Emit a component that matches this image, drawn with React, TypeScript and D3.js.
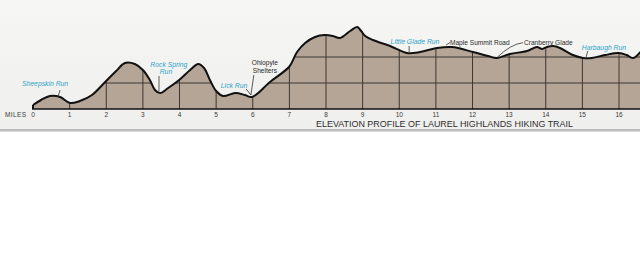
import React from "react";
import * as d3 from "d3";

// Elevation profile: mile along trail, elevation (ft)
const miles = [0, 0.22, 0.46, 0.74, 1.01, 1.28, 1.61, 1.97, 2.27, 2.51, 2.78, 3.0, 3.19, 3.33, 3.47, 3.69, 3.99, 4.29, 4.51, 4.67, 4.83, 5.0, 5.19, 5.52, 5.79, 5.98, 6.47, 6.99, 7.1, 7.21, 7.43, 7.7, 7.97, 8.19, 8.38, 8.66, 8.85, 8.96, 9.07, 9.28, 9.75, 10.21, 10.57, 11.03, 11.44, 12.01, 12.42, 12.67, 13.02, 13.49, 13.76, 13.9, 14.03, 14.2, 14.39, 14.74, 15.02, 15.26, 15.62, 15.99, 16.21, 16.38, 16.6];
const elevations = [1077, 1173, 1250, 1231, 1115, 1154, 1269, 1519, 1731, 1885, 1865, 1750, 1558, 1365, 1308, 1404, 1558, 1750, 1865, 1788, 1558, 1346, 1250, 1308, 1269, 1231, 1519, 1808, 1942, 2096, 2269, 2385, 2423, 2404, 2365, 2500, 2577, 2500, 2404, 2327, 2212, 2077, 2096, 2173, 2192, 2096, 2019, 1981, 2058, 2115, 2192, 2154, 2192, 2212, 2173, 2038, 1981, 1981, 2038, 2077, 2038, 1981, 2110];

const mileTicks = [0, 1, 2, 3, 4, 5, 6, 7, 8, 9, 10, 11, 12, 13, 14, 15, 16];
const gridElevations = [1500, 2000];

const blueLabels = ["Sheepskin Run", "Rock Spring", "Run", "Lick Run", "Little Glade Run", "Harbaugh Run"];
const blueLabelMiles = [0.33, 3.71, 3.63, 5.49, 10.43, 15.59];
const blueLabelElev = [1433, 1817, 1673, 1413, 2250, 2144];

const blackLabels = ["Ohiopyle", "Shelters", "Maple Summit Road", "Cranberry Glade"];
const blackLabelMiles = [6.33, 6.33, 12.2, 14.07];
const blackLabelElev = [1837, 1692, 2240, 2231];

// leader lines: [mile1, elev1, mile2, elev2]
const leaderM1 = [0.68, 3.44, 5.82, 6.03, 10.27, 11.28, 15.1];
const leaderE1 = [1231, 1635, 1385, 1654, 2212, 2231, 2000];
const leaderM2 = [0.74, 3.44, 5.95, 5.95, 10.27, 11.39, 15.15];
const leaderE2 = [1365, 1346, 1269, 1269, 2096, 2279, 2115];

const title = "ELEVATION PROFILE OF LAUREL HIGHLANDS HIKING TRAIL";

export default function App() {
  const W = 640, H = 279;
  const x = d3.scaleLinear().domain([0, 16]).range([33, 619]);
  const y = d3.scaleLinear().domain([1000, 2000]).range([109, 57]);
  const data = miles.map((m, i) => ({ m, e: elevations[i] }));
  const area = d3.area<{ m: number; e: number }>()
    .x((d) => x(d.m)).y0(y(1000)).y1((d) => y(d.e)).curve(d3.curveCatmullRom.alpha(0.5));
  const line = d3.line<{ m: number; e: number }>()
    .x((d) => x(d.m)).y((d) => y(d.e)).curve(d3.curveCatmullRom.alpha(0.5));
  const areaPath = area(data) || "";
  const linePath = line(data) || "";
  // Cranberry Glade curved leader
  const cg0 = [x(12.67), y(1990)];
  const cg1 = [x(13.38), y(2275)];
  const cgPath = `M${cg0[0]},${cg0[1]} Q${x(13.05)},${y(2250)} ${cg1[0]},${cg1[1]}`;
  const font = "'Liberation Sans', Arial, sans-serif";

  return (
    <svg width={W} height={H} style={{ position: "absolute", left: 0, top: 0 }} xmlns="http://www.w3.org/2000/svg">
      <defs>
        <clipPath id="areaClip">
          <path d={areaPath} />
        </clipPath>
        <linearGradient id="paper" x1="0" y1="0" x2="0" y2="1">
          <stop offset="0" stopColor="#f6f6f4" />
          <stop offset="1" stopColor="#efefed" />
        </linearGradient>
      </defs>
      <rect x={0} y={0} width={W} height={H} fill="#ffffff" />
      <rect x={0} y={0} width={W} height={130} fill="url(#paper)" />
      <line x1={0} x2={W} y1={130} y2={130} stroke="#a9a9a9" strokeWidth={1.5} />
      <line x1={0} x2={W} y1={131.5} y2={131.5} stroke="#dcdcdc" strokeWidth={1} />
      <path d={areaPath} fill="#b4a597" />
      <g clipPath="url(#areaClip)">
        {mileTicks.filter((t) => t > 0).map((t) => (
          <line key={t} x1={x(t)} x2={x(t)} y1={y(1000)} y2={20} stroke="#3d3631" strokeWidth={1} />
        ))}
        {gridElevations.map((e) => (
          <line key={e} x1={x(0)} x2={W} y1={y(e)} y2={y(e)} stroke="#3d3631" strokeWidth={1} />
        ))}
      </g>
      <path d={linePath} fill="none" stroke="#111" strokeWidth={2} strokeLinejoin="round" />
      <line x1={x(0)} x2={x(0)} y1={y(1000)} y2={y(elevations[0])} stroke="#111" strokeWidth={2} />
      <line x1={x(0) - 1} x2={W} y1={y(1000)} y2={y(1000)} stroke="#111" strokeWidth={1.6} />
      {mileTicks.map((t) => (
        <text key={t} x={x(t)} y={116.5} fontSize={6.5} fill="#3a3a3a" textAnchor="middle" fontFamily={font}>{t}</text>
      ))}
      <text x={5} y={116.5} fontSize={6.5} fill="#3a3a3a" fontFamily={font} textLength={21} lengthAdjust="spacing">MILES</text>
      <text x={316} y={126.5} fontSize={9.6} fill="#2e2e2e" fontFamily={font} textLength={257} lengthAdjust="spacingAndGlyphs">{title}</text>
      {blueLabels.map((s, i) => (
        <text key={s + i} x={x(blueLabelMiles[i])} y={y(blueLabelElev[i])} fontSize={6.8} fontStyle="italic" fill="#2ea3c8" textAnchor="middle" fontFamily={font}>{s}</text>
      ))}
      {blackLabels.map((s, i) => (
        <text key={s + i} x={x(blackLabelMiles[i])} y={y(blackLabelElev[i])} fontSize={6.6} fill="#2a2a2a" textAnchor="middle" fontFamily={font}>{s}</text>
      ))}
      {leaderM1.map((m, i) => (
        <line key={i} x1={x(m)} y1={y(leaderE1[i])} x2={x(leaderM2[i])} y2={y(leaderE2[i])} stroke="#333" strokeWidth={0.8} />
      ))}
      <path d={cgPath} fill="none" stroke="#333" strokeWidth={0.8} />
    </svg>
  );
}
